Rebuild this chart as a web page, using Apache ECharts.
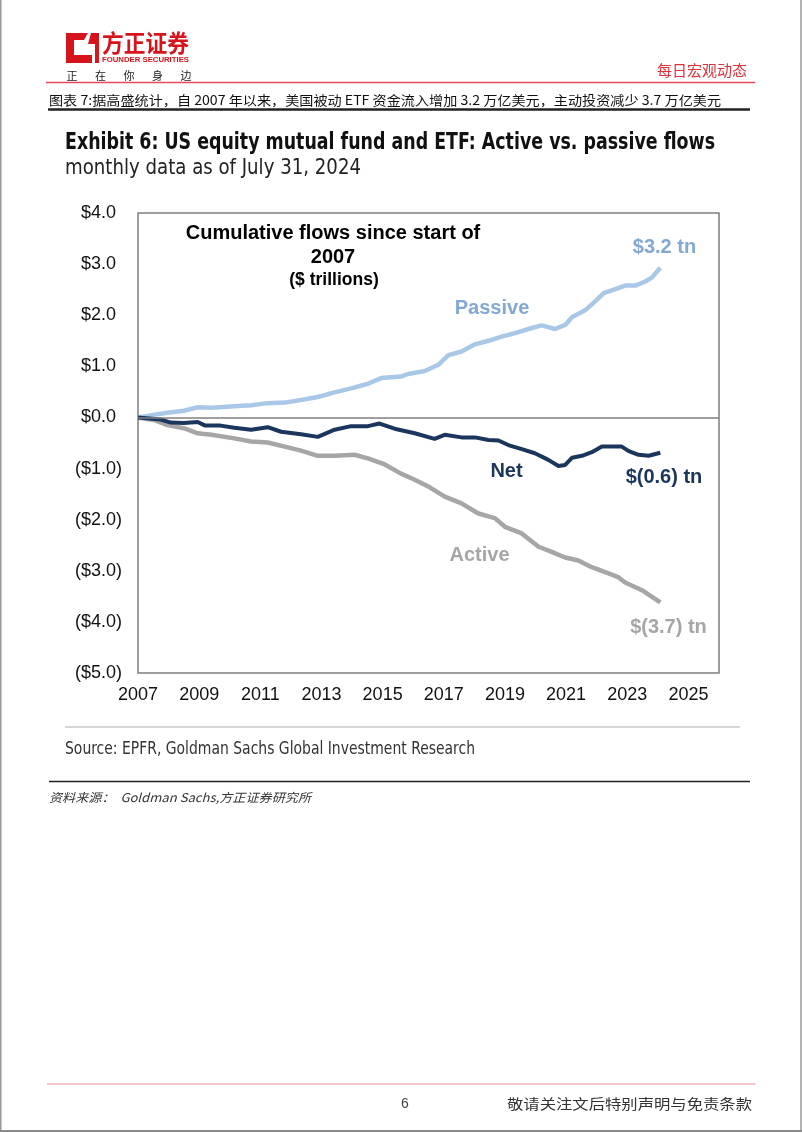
<!DOCTYPE html>
<html>
<head>
<meta charset="utf-8">
<script src="https://cdn.jsdelivr.net/npm/echarts@6/dist/echarts.min.js"></script>
<style>
html,body{margin:0;padding:0;background:#fff;}
#chart{width:802px;height:1133px;}
</style>
</head>
<body>
<div id="chart"></div>
<script>
// ---- Data ----
const passiveYears = [2007.0, 2007.5, 2007.96, 2008.5, 2008.95, 2009.4, 2010.15, 2010.7, 2011.24, 2011.8, 2012.33, 2012.88, 2013.43, 2013.97, 2014.52, 2014.95, 2015.6, 2015.83, 2016.38, 2016.82, 2017.15, 2017.58, 2018.02, 2018.46, 2018.89, 2019.33, 2019.77, 2020.2, 2020.64, 2020.97, 2021.19, 2021.63, 2021.95, 2022.23, 2022.61, 2022.93, 2023.26, 2023.59, 2023.81, 2024.08];
const passiveValues = [0.0, 0.05, 0.09, 0.13, 0.20, 0.19, 0.22, 0.24, 0.28, 0.29, 0.34, 0.40, 0.49, 0.57, 0.66, 0.77, 0.80, 0.85, 0.91, 1.03, 1.22, 1.29, 1.43, 1.50, 1.58, 1.65, 1.73, 1.80, 1.73, 1.81, 1.96, 2.10, 2.27, 2.43, 2.51, 2.58, 2.58, 2.66, 2.74, 2.93];

const netYears = [2007.0, 2007.74, 2008.07, 2008.5, 2008.95, 2009.2, 2009.7, 2010.15, 2010.7, 2011.24, 2011.68, 2012.33, 2012.88, 2013.43, 2013.97, 2014.52, 2014.9, 2015.39, 2016.05, 2016.7, 2017.03, 2017.58, 2018.02, 2018.46, 2018.79, 2019.11, 2019.55, 2019.98, 2020.42, 2020.75, 2020.97, 2021.19, 2021.52, 2021.84, 2022.17, 2022.61, 2022.82, 2023.05, 2023.37, 2023.7, 2024.08];
const netValues = [0.0, -0.04, -0.10, -0.11, -0.09, -0.16, -0.16, -0.20, -0.24, -0.19, -0.28, -0.33, -0.38, -0.24, -0.17, -0.17, -0.12, -0.22, -0.31, -0.42, -0.34, -0.39, -0.39, -0.44, -0.45, -0.54, -0.62, -0.70, -0.83, -0.95, -0.93, -0.79, -0.75, -0.68, -0.57, -0.57, -0.57, -0.66, -0.73, -0.75, -0.69];

const activeYears = [2007.0, 2007.52, 2007.96, 2008.5, 2008.95, 2009.4, 2010.15, 2010.7, 2011.24, 2011.8, 2012.33, 2012.88, 2013.43, 2014.08, 2014.52, 2015.07, 2015.6, 2016.05, 2016.49, 2017.03, 2017.58, 2018.13, 2018.67, 2019.0, 2019.55, 2020.1, 2020.53, 2020.97, 2021.4, 2021.84, 2022.39, 2022.72, 2022.93, 2023.48, 2024.08];
const activeValues = [0.0, -0.05, -0.15, -0.21, -0.31, -0.34, -0.41, -0.47, -0.49, -0.57, -0.65, -0.75, -0.75, -0.73, -0.80, -0.92, -1.10, -1.22, -1.35, -1.55, -1.68, -1.88, -1.97, -2.14, -2.27, -2.53, -2.63, -2.74, -2.80, -2.93, -3.05, -3.13, -3.23, -3.38, -3.62];

const xMin = 2007, xMax = 2026, xStep = 2;
const yMin = -5, yMax = 4, yStep = 1;

const titleText = 'Exhibit 6: US equity mutual fund and ETF: Active vs. passive flows';
const subtitleText = 'monthly data as of July 31, 2024';
const sourceText = 'Source: EPFR, Goldman Sachs Global Investment Research';
const captionText = '图表 7:据高盛统计，自 2007 年以来，美国被动 ETF 资金流入增加 3.2 万亿美元，主动投资减少 3.7 万亿美元';
const noteText = '资料来源：  Goldman Sachs,方正证券研究所';
const footerText = '敬请关注文后特别声明与免责条款';
const pageNumber = '6';
const innerTitle = ['Cumulative flows since start of', '2007', '($ trillions)'];
const endLabels = {passive: '$3.2 tn', net: '$(0.6) tn', active: '$(3.7) tn'};
const seriesNames = {passive: 'Passive', net: 'Net', active: 'Active'};

// ---- helpers ----
const mctx = document.createElement('canvas').getContext('2d');
function fitScale(text, font, w) { mctx.font = font; return w / mctx.measureText(text).width; }
function pairs(xs, ys) { return xs.map((x, i) => [x, ys[i]]); }
function fitText(text, font, left, y, width, fill, extra) {
  return Object.assign({
    type: 'text', x: left, y: y, scaleX: fitScale(text, font, width), silent: true,
    style: {text: text, font: font, fill: fill, align: 'left', verticalAlign: 'middle', textAlign: 'left', textVerticalAlign: 'middle'}
  }, extra || {});
}
function plainText(text, x, y, font, fill, align) {
  return {type: 'text', x: x, y: y, silent: true,
    style: {text: text, font: font, fill: fill, align: align || 'center', verticalAlign: 'middle', textAlign: align || 'center', textVerticalAlign: 'middle'}};
}
function hline(x1, x2, y, color, w) {
  return {type: 'line', silent: true, shape: {x1: x1, y1: y, x2: x2, y2: y}, style: {stroke: color, lineWidth: w}};
}

const NARROW = '"Liberation Sans Narrow", "DejaVu Sans Condensed", "Liberation Sans", sans-serif';
const ARIAL = '"Liberation Sans", Arial, sans-serif';
const CJK = '"Noto Sans CJK SC", sans-serif';

const red = '#d7141b';
const passiveColor = '#a9c8e7';
const passiveText = '#82a9d4';
const netColor = '#1b365d';
const activeColor = '#a6a6a6';

const graphics = [];
// page border (left, right, bottom)
graphics.push({type: 'line', silent: true, shape: {x1: 0.75, y1: 0, x2: 0.75, y2: 1131}, style: {stroke: '#9a9a9a', lineWidth: 1.5}});
graphics.push({type: 'line', silent: true, shape: {x1: 801, y1: 0, x2: 801, y2: 1131}, style: {stroke: '#9a9a9a', lineWidth: 1.5}});
graphics.push(hline(0, 802, 1131, '#8a8a8a', 2));

// logo mark
graphics.push({type: 'polygon', silent: true, shape: {points: [[66,33],[88,33],[84,40],[74,40],[74,55],[92,55],[92,63],[66,63]]}, style: {fill: red}});
graphics.push({type: 'polygon', silent: true, shape: {points: [[91,33],[99,33],[99,63],[95,63],[95,44],[88,44]]}, style: {fill: red}});
graphics.push(fitText('方正证券', 'bold 24px ' + CJK, 102, 43, 87, red));
graphics.push(fitText('FOUNDER SECURITIES', 'bold 8px ' + ARIAL, 102, 59.5, 87, red));
['正','在','你','身','边'].forEach((c, i) => {
  graphics.push(plainText(c, 72 + i * 28.5, 75.5, '11px ' + CJK, '#222', 'center'));
});
graphics.push(plainText('每日宏观动态', 747, 70, '15px ' + CJK, '#e0303a', 'right'));
graphics.push(hline(46, 755, 82.5, '#e5475c', 1.5));

// caption
graphics.push(fitText(captionText, '13px ' + CJK, 49, 100, 672, '#111'));
graphics.push(hline(48, 750, 109.5, '#222', 2.5));

// exhibit title
graphics.push(fitText(titleText, 'bold 23px ' + NARROW, 65, 143, 650, '#111'));
graphics.push(fitText(subtitleText, '21px ' + NARROW, 65, 169, 296, '#222'));

// inner chart annotations
graphics.push(plainText(innerTitle[0], 333, 233, 'bold 20px ' + ARIAL, '#000'));
graphics.push(plainText(innerTitle[1], 333, 257, 'bold 20px ' + ARIAL, '#000'));
graphics.push(plainText(innerTitle[2], 334, 280, 'bold 17.5px ' + ARIAL, '#000'));
graphics.push(plainText(endLabels.passive, 664.5, 247, 'bold 20px ' + ARIAL, passiveText));
graphics.push(plainText(seriesNames.passive, 492, 308, 'bold 20px ' + ARIAL, passiveText));
graphics.push(plainText(seriesNames.net, 506.5, 471, 'bold 20px ' + ARIAL, netColor));
graphics.push(plainText(endLabels.net, 664, 477, 'bold 20px ' + ARIAL, netColor));
graphics.push(plainText(seriesNames.active, 479.5, 555, 'bold 20px ' + ARIAL, activeColor));
graphics.push(plainText(endLabels.active, 668.5, 627, 'bold 20px ' + ARIAL, activeColor));

// source area
graphics.push(hline(65, 740, 727, '#c8c8c8', 1.5));
graphics.push(fitText(sourceText, '17px ' + NARROW, 65, 750, 410, '#333'));
graphics.push(hline(49, 750, 781.5, '#222', 1.5));
graphics.push(fitText(noteText, 'italic 12px ' + CJK, 49, 797, 262, '#333'));

// footer
graphics.push(hline(47, 755, 1084, '#e88fa0', 1.2));
graphics.push(plainText(pageNumber, 405, 1104, '14px ' + ARIAL, '#444'));
graphics.push(fitText(footerText, '14px ' + CJK, 507, 1104, 245, '#333'));

function yFmt(v) {
  const s = Math.abs(v).toFixed(1);
  return v < 0 ? '{n|($' + s + ')}' : '{n|$' + s + '}{h|)}';
}

const chart = echarts.init(document.getElementById('chart'), null, {renderer: 'canvas', width: 802, height: 1133});
chart.setOption({
  animation: false,
  backgroundColor: '#ffffff',
  grid: {left: 138, right: 83, top: 213, height: 460, show: true, borderColor: '#7f7f7f', borderWidth: 1.5, backgroundColor: 'transparent'},
  xAxis: {
    type: 'value', min: xMin, max: xMax, interval: xStep,
    axisLine: {show: false}, axisTick: {show: false}, splitLine: {show: false},
    axisLabel: {show: true, showMaxLabel: false, margin: 13, fontSize: 18, color: '#111', fontFamily: ARIAL, formatter: v => String(Math.round(v))}
  },
  yAxis: {
    type: 'value', min: yMin, max: yMax, interval: yStep,
    axisLine: {show: false}, axisTick: {show: false}, splitLine: {show: false},
    axisLabel: {margin: 16, formatter: yFmt,
      rich: {n: {fontSize: 18, color: '#111', fontFamily: ARIAL}, h: {fontSize: 18, color: 'rgba(0,0,0,0)', fontFamily: ARIAL}}}
  },
  series: [
    {name: 'Zero', type: 'line', data: [], silent: true,
      markLine: {silent: true, symbol: 'none', label: {show: false}, lineStyle: {color: '#7f7f7f', width: 1.5, type: 'solid'}, data: [{yAxis: 0}]}},
    {name: seriesNames.active, type: 'line', data: pairs(activeYears, activeValues), showSymbol: false, symbol: 'none', smooth: false,
      lineStyle: {color: activeColor, width: 4.5}, z: 3},
    {name: seriesNames.passive, type: 'line', data: pairs(passiveYears, passiveValues), showSymbol: false, symbol: 'none',
      lineStyle: {color: passiveColor, width: 4.5}, z: 3},
    {name: seriesNames.net, type: 'line', data: pairs(netYears, netValues), showSymbol: false, symbol: 'none',
      lineStyle: {color: netColor, width: 4}, z: 4}
  ],
  graphic: {elements: graphics}
});
</script>
</body>
</html>
